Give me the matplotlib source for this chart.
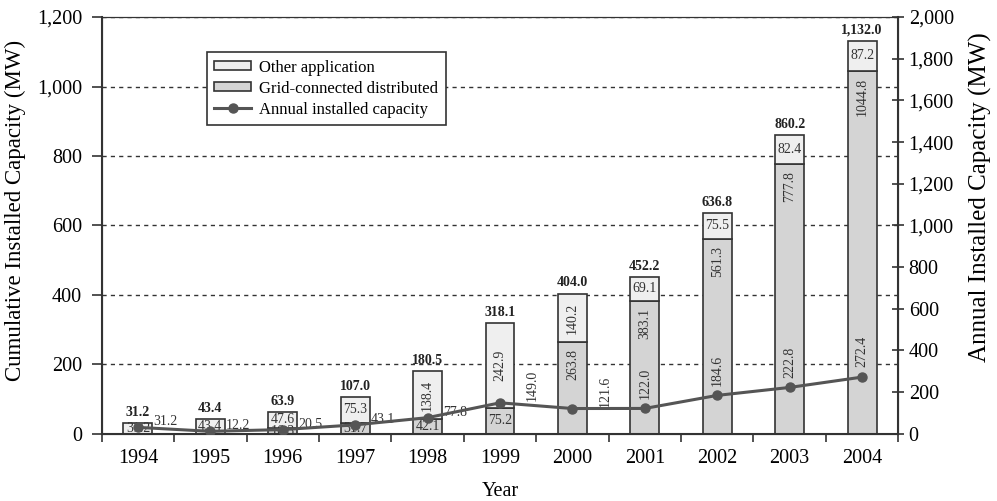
import matplotlib
matplotlib.use("Agg")
import matplotlib.pyplot as plt
from matplotlib.patches import Patch
from matplotlib.lines import Line2D

plt.rcParams['font.family'] = ['Liberation Serif', 'DejaVu Serif']

# data
years = ['1994', '1995', '1996', '1997', '1998', '1999', '2000', '2001', '2002', '2003', '2004']
grid_connected = [0, 0, 16.3, 31.7, 42.1, 75.2, 263.8, 383.1, 561.3, 777.8, 1044.8]
other_app = [31.2, 43.4, 47.6, 75.3, 138.4, 242.9, 140.2, 69.1, 75.5, 82.4, 87.2]
cumulative = [31.2, 43.4, 63.9, 107.0, 180.5, 318.1, 404.0, 452.2, 636.8, 860.2, 1132.0]
annual = [31.2, 12.2, 20.5, 43.1, 77.8, 149.0, 121.6, 122.0, 184.6, 222.8, 272.4]

c_other = '#efefef'
c_grid = '#d4d4d4'
c_edge = '#333333'
c_line = '#555555'
lab_fs = 10

fig = plt.figure(figsize=(9.97, 5.01), dpi=100)
ax = fig.add_axes([0.102, 0.134, 0.799, 0.832])
ax2 = ax.twinx()

x = list(range(len(years)))
w = 0.4

ax.bar(x, grid_connected, w, color=c_grid, edgecolor=c_edge, linewidth=1.2, zorder=2)
ax.bar(x, other_app, w, bottom=grid_connected, color=c_other, edgecolor=c_edge,
       linewidth=1.2, zorder=2)

# segment labels
for i in x:
    g = grid_connected[i]
    o = other_app[i]
    if g > 0:
        if g > 100:
            ax.annotate(f'{g:.1f}', (i, g), xytext=(0, -5), textcoords='offset points',
                        ha='center', va='top', rotation=90, fontsize=lab_fs, color='#333333', zorder=3)
        else:
            ax.text(i, g / 2, f'{g:.1f}', ha='center', va='center', fontsize=lab_fs,
                    color='#333333', zorder=3)
    rot = 90 if o > 100 else 0
    ax.text(i, g + o / 2, f'{o:.1f}', ha='center', va='center', rotation=rot,
            fontsize=lab_fs, color='#333333', zorder=3)
    ax.annotate(f'{cumulative[i]:,.1f}', (i, cumulative[i]), xytext=(0, 3),
                textcoords='offset points', ha='center', va='bottom',
                fontsize=lab_fs, fontweight='bold', color='#222222', zorder=3)

# annual installed capacity line
ax2.plot(x, annual, color=c_line, linewidth=2.2, marker='o', markersize=6.5, zorder=4)
for i in x:
    v = annual[i]
    if i < 5:
        ax2.annotate(f'{v:.1f}', (i, v), xytext=(11, 4), textcoords='offset points',
                     ha='left', va='center', fontsize=lab_fs, color='#333333')
    elif i < 7:
        ax2.annotate(f'{v:.1f}', (i + 0.45, v), xytext=(0, 1), textcoords='offset points',
                     ha='center', va='bottom', rotation=90, fontsize=lab_fs, color='#333333')
    else:
        ax2.annotate(f'{v:.1f}', (i, v), xytext=(0, 7), textcoords='offset points',
                     ha='center', va='bottom', rotation=90, fontsize=lab_fs, color='#333333')

ax.set_xlim(-0.5, 10.5)
ax.set_ylim(0, 1200)
ax2.set_ylim(0, 2000)

ax.set_yticks(range(0, 1201, 200))
ax.set_yticklabels([f'{v:,}' for v in range(0, 1201, 200)])
ax2.set_yticks(range(0, 2001, 200))
ax2.set_yticklabels([f'{v:,}' for v in range(0, 2001, 200)])

ax.set_xticks([i - 0.5 for i in range(len(years) + 1)])
ax.set_xticklabels([])
ax.set_xticks(x, minor=True)
ax.set_xticklabels(years, minor=True)
ax.tick_params(axis='x', which='major', direction='out', length=6, width=1.2, color='#333333')
ax.tick_params(axis='x', which='minor', length=0, pad=11, labelsize=14.5)
ax.tick_params(axis='y', direction='out', length=7, width=1.2, color='#333333',
               labelsize=14.5, pad=7)
ax2.tick_params(axis='y', direction='inout', length=8, width=1.2, color='#333333', labelsize=14.5)

ax.yaxis.grid(True, linestyle=(0, (3, 3)), color='#333333', linewidth=1)
ax.set_axisbelow(True)

for sp in ['left', 'bottom', 'right', 'top']:
    ax.spines[sp].set_color('#333333')
    ax2.spines[sp].set_color('#333333')
ax.spines['left'].set_linewidth(1.5)
ax.spines['bottom'].set_linewidth(1.5)
ax2.spines['right'].set_linewidth(1.5)
ax.spines['top'].set_linewidth(0.8)
ax2.spines['top'].set_linewidth(0.8)

ax.set_xlabel('Year', fontsize=14.5, labelpad=10)
ax.set_ylabel('Cumulative Installed Capacity (MW)', fontsize=16.5, labelpad=8, y=0.537)
ax2.set_ylabel('Annual Installed Capacity (MW)', fontsize=18, labelpad=11, y=0.568)

handles = [
    Patch(facecolor=c_other, edgecolor=c_edge, linewidth=1.2),
    Patch(facecolor=c_grid, edgecolor=c_edge, linewidth=1.2),
    Line2D([0], [0], color=c_line, linewidth=2.2, marker='o', markersize=6.5),
]
labels = ['Other application', 'Grid-connected distributed', 'Annual installed capacity']
leg = ax2.legend(handles, labels, loc='upper left', bbox_to_anchor=(0.132, 0.916),
                 borderaxespad=0, fontsize=12, frameon=True, fancybox=False, framealpha=1,
                 edgecolor='#333333', handlelength=2.2, handleheight=0.4,
                 labelspacing=0.3, borderpad=0.45, handletextpad=0.5)
leg.get_frame().set_linewidth(1.2)

fig.savefig('out.png', dpi=100)
